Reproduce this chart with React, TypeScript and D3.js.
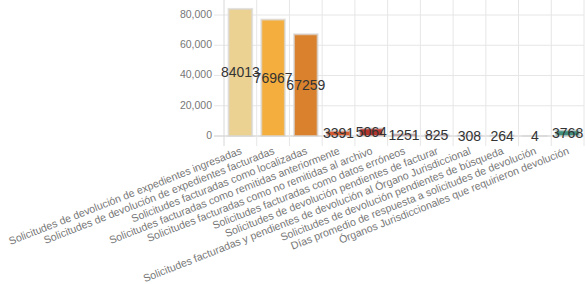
import * as d3 from "d3";
import React from "react";

const categories = [
  "Solicitudes de devolución de expedientes ingresadas",
  "Solicitudes de devolución de expedientes facturadas",
  "Solicitudes facturadas como localizadas",
  "Solicitudes facturadas como remitidas anteriormente",
  "Solicitudes facturadas como no remitidas al archivo",
  "Solicitudes facturadas como datos erróneos",
  "Solicitudes de devolución pendientes de facturar",
  "Solicitudes facturadas y pendientes de devolución al Órgano Jurisdiccional",
  "Solicitudes de devolución pendientes de búsqueda",
  "Días promedio de respuesta a solicitudes de devolución",
  "Órganos Jurisdiccionales que requirieron devolución",
];
const values = [84013, 76967, 67259, 3391, 5064, 1251, 825, 308, 264, 4, 3768];
const barColors = [
  "#ebd293", "#f3ae3e", "#d9812c", "#d65a2f", "#b5342c", "#93404a",
  "#6d3f5c", "#52496e", "#3d5d7a", "#3a7682", "#3f8e7e",
];
// the axis runs to 100,000 but the top of the chart is cropped in the picture
const yTicks = [0, 20000, 40000, 60000, 80000];
const yMax = 100000;

const W = 586;
const H = 284;
const left = 224;
const right = 584;
const zeroY = 136;
const pxPer20k = 30.25;

export default function App() {
  const x = d3.scaleBand<string>().domain(categories).range([left, right]);
  const y = d3
    .scaleLinear()
    .domain([0, yMax])
    .range([zeroY, zeroY - pxPer20k * 5]);
  const bw = x.bandwidth();
  const barW = bw * 0.72;
  const fmt = d3.format(",");
  const font = "'Liberation Sans', Arial, Helvetica, sans-serif";

  return (
    <svg
      width={W}
      height={H}
      style={{ position: "absolute", left: 0, top: 0, background: "#fff" }}
      fontFamily={font}
    >
      {/* horizontal grid + y ticks */}
      {yTicks.map((t) => (
        <g key={t}>
          <line
            x1={left - 10}
            x2={right}
            y1={y(t)}
            y2={y(t)}
            stroke={t === 0 ? "#c8c8c8" : "#e6e6e6"}
            strokeWidth={1}
          />
          <text
            x={left - 12}
            y={y(t)}
            textAnchor="end"
            dominantBaseline="middle"
            fontSize={10.5}
            fill="#777"
          >
            {fmt(t)}
          </text>
        </g>
      ))}
      {/* vertical grid */}
      {categories.map((c, i) => (
        <line
          key={c}
          x1={x(c)!}
          x2={x(c)!}
          y1={y(yMax)}
          y2={zeroY + 10}
          stroke={i === 0 ? "#d8d8d8" : "#e6e6e6"}
          strokeWidth={1}
        />
      ))}
      <line x1={right} x2={right} y1={y(yMax)} y2={zeroY + 10} stroke="#e6e6e6" />
      {/* bars */}
      {categories.map((c, i) => {
        const cx = x(c)! + bw / 2;
        const top = y(values[i]);
        return (
          <rect
            key={c}
            x={cx - barW / 2}
            y={top}
            width={barW}
            height={zeroY - top}
            fill={barColors[i]}
            stroke="rgba(215,215,215,0.7)"
            strokeWidth={2}
          />
        );
      })}
      {/* data labels */}
      {categories.map((c, i) => {
        const cx = x(c)! + bw / 2;
        const mid = (y(values[i]) + zeroY) / 2;
        return (
          <text
            key={c}
            x={cx}
            y={mid}
            textAnchor="middle"
            dominantBaseline="central"
            fontSize={14}
            fill="#333"
          >
            {values[i]}
          </text>
        );
      })}
      {/* x labels */}
      {categories.map((c) => {
        const cx = x(c)! + bw / 2;
        return (
          <text
            key={c}
            transform={`translate(${cx + 1},${zeroY + 15}) rotate(-21.5)`}
            textAnchor="end"
            dominantBaseline="middle"
            fontSize={10.6}
            fill="#777"
          >
            {c}
          </text>
        );
      })}
    </svg>
  );
}
